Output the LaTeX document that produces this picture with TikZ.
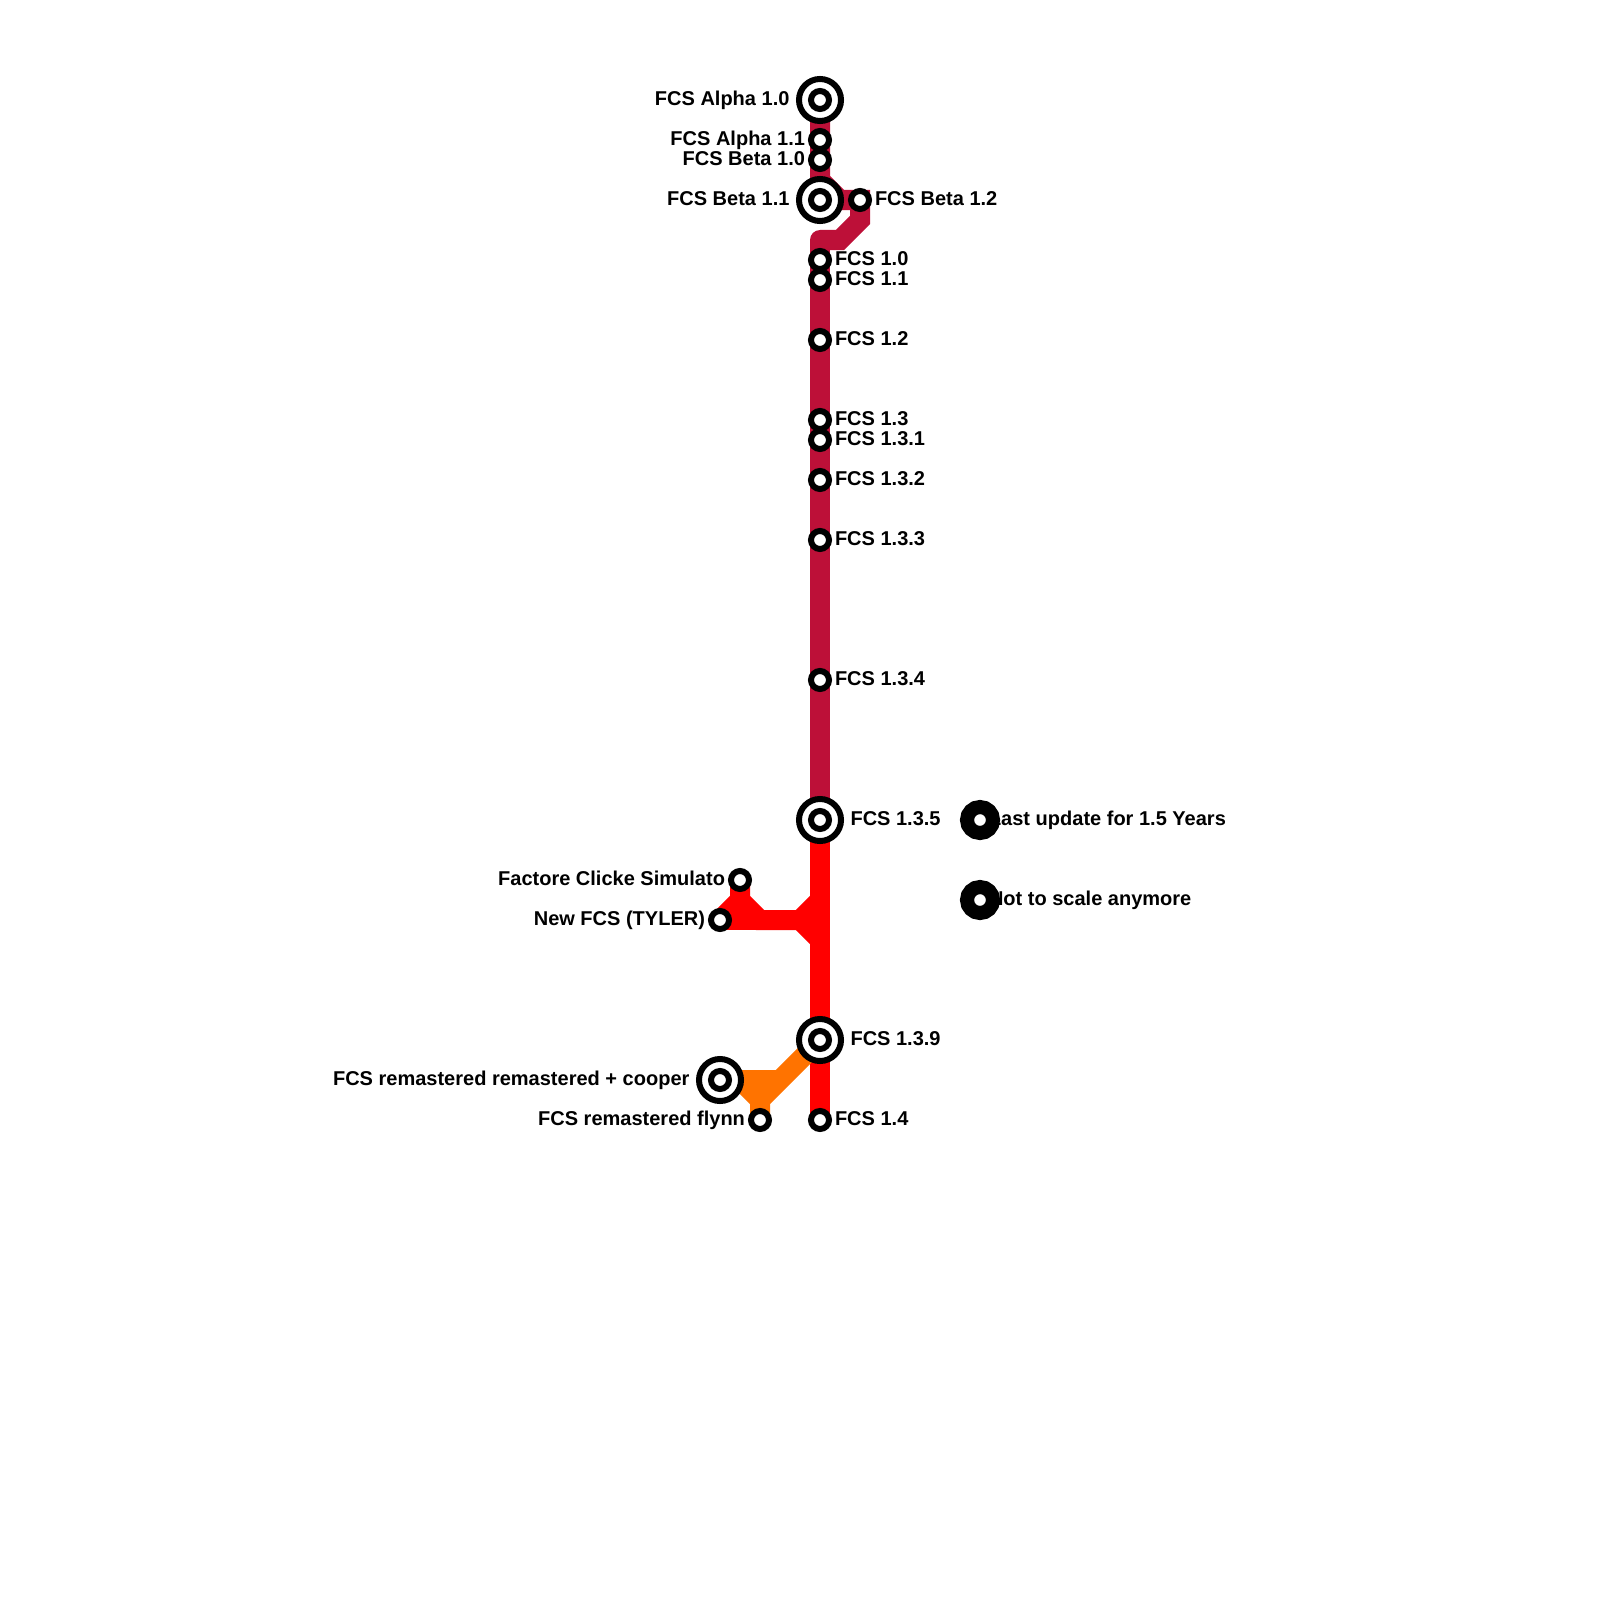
\documentclass[tikz,border=0pt]{standalone}
\usepackage{fontspec}
\setmainfont{Liberation Sans}
\usepackage{xcolor}
\usepackage{tikz}
\usetikzlibrary{positioning,backgrounds}
\definecolor{crimsonline}{RGB}{189, 16, 56}
\definecolor{redline}{RGB}{255, 0, 0}
\definecolor{orangeline}{RGB}{255, 115, 0}

\tikzset{
  stop/.style={circle,draw=black,fill=white,line width=0.06cm,minimum size=0.18cm,inner sep=0pt,outer sep=0pt},
  hub/.style={circle,draw=black,fill=white,line width=0.06cm,minimum size=0.42cm,inner sep=0pt,outer sep=0pt},
  hubdot/.style={circle,draw=black,fill=white,line width=0.06cm,minimum size=0.18cm,inner sep=0pt,outer sep=0pt},
  keystop/.style={circle,draw=black,fill=white,line width=0.14cm,minimum size=0.26cm,inner sep=0pt,outer sep=0pt},
  stoplabel/.style={font=\fontsize{5.69}{6.5}\selectfont\bfseries,inner sep=0pt,outer sep=0pt,text height=0.14cm,text depth=0.04cm},
  track/.style={line width=0.2cm,line join=miter}
}

\begin{document}
\begin{tikzpicture}[x=0.01cm,y=-0.01cm]
\useasboundingbox (0,0) rectangle (1600,1600);
% hubs
\node[hub](a10) at (820,100){}; \node[hubdot](a10dot) at (a10){};
\node[hub](b11) at (820,200){}; \node[hubdot](b11dot) at (b11){};
\node[hub](f135) at (820,820){}; \node[hubdot](f135dot) at (f135){};
\node[hub](f139) at (820,1040){}; \node[hubdot](f139dot) at (f139){};
\node[hub](rem) at (720,1080){}; \node[hubdot](remdot) at (rem){};
% stops
\node[stop](a11) at (820,140){};
\node[stop](b10) at (820,160){};
\node[stop](b12) at (860,200){};
\node[stop](f10) at (820,260){};
\node[stop](f11) at (820,280){};
\node[stop](f12) at (820,340){};
\node[stop](f13) at (820,420){};
\node[stop](f131) at (820,440){};
\node[stop](f132) at (820,480){};
\node[stop](f133) at (820,540){};
\node[stop](f134) at (820,680){};
\node[stop](f14) at (820,1120){};
\node[stop](sim) at (740,880){};
\node[stop](tyler) at (720,920){};
\node[stop](flynn) at (760,1120){};
% labels
\node[stoplabel,left=0.095cm of a10]{FCS Alpha 1.0};
\node[stoplabel,left=0.06cm of a11]{FCS Alpha 1.1};
\node[stoplabel,left=0.06cm of b10]{FCS Beta 1.0};
\node[stoplabel,left=0.095cm of b11]{FCS Beta 1.1};
\node[stoplabel,right=0.06cm of b12]{FCS Beta 1.2};
\node[stoplabel,right=0.06cm of f10]{FCS 1.0};
\node[stoplabel,right=0.06cm of f11]{FCS 1.1};
\node[stoplabel,right=0.06cm of f12]{FCS 1.2};
\node[stoplabel,right=0.06cm of f13]{FCS 1.3};
\node[stoplabel,right=0.06cm of f131]{FCS 1.3.1};
\node[stoplabel,right=0.06cm of f132]{FCS 1.3.2};
\node[stoplabel,right=0.06cm of f133]{FCS 1.3.3};
\node[stoplabel,right=0.06cm of f134]{FCS 1.3.4};
\node[stoplabel,right=0.095cm of f135]{FCS 1.3.5};
\node[stoplabel,left=0.06cm of sim]{Factore Clicke Simulato};
\node[stoplabel,left=0.06cm of tyler]{New FCS (TYLER)};
\node[stoplabel,right=0.095cm of f139]{FCS 1.3.9};
\node[stoplabel,left=0.095cm of rem]{FCS remastered remastered + cooper};
\node[stoplabel,left=0.06cm of flynn]{FCS remastered flynn};
\node[stoplabel,right=0.06cm of f14]{FCS 1.4};
% key
\node[keystop](keya) at (980,820){};
\node[keystop](keyb) at (980,900){};
\begin{scope}[on background layer]
\node[stoplabel,right=-0.04cm of keya]{Last update for 1.5 Years};
\node[stoplabel,right=-0.04cm of keyb]{Not to scale anymore};
% tracks
\coordinate (ca) at (820,180); \coordinate (cb) at (840,200); \coordinate (cc) at (860,220);
\coordinate (cd) at (840,240); \coordinate (ce) at (820,240);
\draw[track,crimsonline](a10.center)--(a11.center)--(b10.center)--(ca)--(cb)--(b12.center)--(cc)--(cd)--(ce);
\draw[track,crimsonline,line join=round](cd)--(ce)--(f10.center)--(f11.center)--(f12.center)--(f13.center)--(f131.center)--(f132.center)--(f133.center)--(f134.center)--(f135.center);
\coordinate (cf) at (820,900); \coordinate (cg) at (800,920); \coordinate (ch) at (820,940);
\coordinate (ci) at (760,920); \coordinate (cj) at (740,900); \coordinate (ck) at (760,1100);
\coordinate (cl) at (740,1080); \coordinate (cm) at (780,1080);
\draw[track,redline](f135.center)--(f139.center)--(f14.center);
\draw[track,redline](cf)--(cg)--(ch);
\draw[track,redline](cg)--(ci)--(cj)--(sim.center);
\draw[track,redline](cg)--(tyler.center);
\draw[track,redline](cj)--(tyler.center);
\draw[track,orangeline](f139.center)--(ck)--(flynn.center);
\draw[track,orangeline](ck)--(cl)--(rem.center);
\draw[track,orangeline](cl)--(cm);
\end{scope}
\end{tikzpicture}
\end{document}
